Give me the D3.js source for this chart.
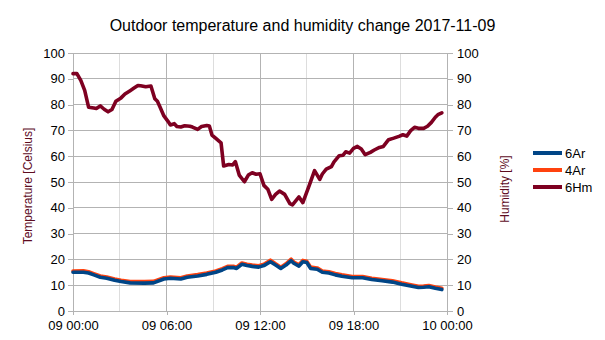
<!DOCTYPE html>
<html>
<head>
<meta charset="utf-8">
<script src="https://cdn.jsdelivr.net/npm/d3@7"></script>
<style>
  body { margin: 0; background: #fff; }
  svg { display: block; font-family: "Liberation Sans", Arial, sans-serif; }
</style>
</head>
<body>
<svg id="chart" width="605" height="340"></svg>
<script>
// Outdoor readings for 2017-11-09
const day = "2017-11-09";

// Humidity sensor 6Hm [%]
const humTimes = [
  "00:00","00:15","00:30","00:45","01:00","01:20","01:30","01:45","02:00","02:15",
  "02:30","02:45","03:05","03:20","03:40","03:55","04:10","04:20","04:40","05:00",
  "05:15","05:25","05:35","05:50","06:05","06:15","06:30","06:40","06:55","07:10",
  "07:30","07:40","08:00","08:15","08:35","08:45","08:55","09:10","09:30","09:40",
  "10:00","10:15","10:25","10:40","11:00","11:15","11:30","11:45","12:00","12:15",
  "12:30","12:45","13:00","13:15","13:35","13:55","14:05","14:30","14:45","15:10",
  "15:30","15:50","16:00","16:15","16:35","16:45","17:05","17:20","17:30","17:45",
  "18:00","18:15","18:30","18:45","19:05","19:20","19:40","19:55","20:15","20:35",
  "20:55","21:10","21:25","21:40","21:55","22:10","22:30","22:45","23:00","23:15",
  "23:25","23:40"
];
const hum6Hm = [
  92.0, 92.0, 89.4, 85.5, 79.0, 78.7, 78.5, 79.5, 78.2, 77.2,
  78.1, 81.3, 82.6, 84.1, 85.4, 86.4, 87.4, 87.3, 86.9, 87.2,
  82.3, 81.3, 79.1, 75.6, 73.6, 72.1, 72.6, 71.5, 71.3, 71.8,
  71.6, 71.3, 70.4, 71.5, 71.9, 71.7, 68.2, 66.9, 65.2, 56.2,
  56.8, 56.6, 57.9, 52.7, 50.1, 52.7, 53.6, 53.0, 53.2, 48.7,
  47.2, 43.3, 45.2, 46.5, 45.2, 41.6, 41.1, 44.2, 42.0, 48.8,
  54.4, 51.0, 53.1, 55.0, 56.0, 57.8, 60.2, 60.4, 61.7, 61.2,
  63.0, 63.8, 62.8, 60.6, 61.5, 62.4, 63.4, 63.8, 66.4, 67.0,
  67.7, 68.3, 67.8, 69.9, 71.2, 70.8, 70.8, 71.6, 73.1, 75.1,
  76.1, 76.8
];

// Temperature sensors 6Ar and 4Ar [Celsius]
const tempTimes = [
  "00:00","00:40","01:00","01:20","01:45","02:10","02:40","03:05","03:40","04:35",
  "05:10","05:50","06:15","06:55","07:20","08:00","08:35","09:10","09:35","09:55",
  "10:20","10:30","10:50","11:10","11:30","11:55","12:15","12:40","13:00","13:20",
  "13:40","14:00","14:10","14:30","14:45","15:00","15:15","15:40","16:00","16:25",
  "16:50","17:15","17:55","18:35","19:10","19:50","20:30","21:05","21:45","22:10",
  "22:30","22:50","23:15","23:40"
];
const temp6Ar = [
  15.0, 15.0, 14.7, 14.0, 13.1, 12.7, 11.9, 11.4, 10.9, 10.8,
  10.9, 12.4, 12.7, 12.4, 13.1, 13.6, 14.2, 15.0, 15.9, 16.8,
  16.8, 16.5, 18.1, 17.6, 17.3, 17.0, 17.6, 19.1, 17.8, 16.5,
  17.8, 19.5, 18.5, 17.4, 19.1, 18.8, 16.5, 16.2, 15.0, 14.7,
  14.0, 13.5, 12.9, 12.9, 12.2, 11.7, 11.2, 10.4, 9.6, 9.1,
  9.2, 9.4, 8.8, 8.3
];
const temp4Ar = [
  15.5, 15.6, 15.2, 14.5, 13.6, 13.2, 12.4, 11.9, 11.4, 11.4,
  11.5, 12.9, 13.2, 12.9, 13.6, 14.1, 14.7, 15.5, 16.4, 17.3,
  17.3, 17.0, 18.6, 18.1, 17.8, 17.5, 18.1, 19.7, 18.3, 17.0,
  18.3, 20.1, 19.0, 17.9, 19.6, 19.3, 17.0, 16.7, 15.5, 15.2,
  14.5, 14.0, 13.4, 13.4, 12.7, 12.2, 11.7, 10.9, 10.1, 9.6,
  9.7, 9.9, 9.3, 8.8
];

// Axis ticks
const yTicks = [0, 10, 20, 30, 40, 50, 60, 70, 80, 90, 100];
const xMajorTicks = ["2017-11-09 00:00", "2017-11-09 06:00", "2017-11-09 12:00", "2017-11-09 18:00", "2017-11-10 00:00"];
const xMinorTicks = ["2017-11-09 03:00", "2017-11-09 09:00", "2017-11-09 15:00", "2017-11-09 21:00"];

const seriesNames = ["6Ar", "4Ar", "6Hm"];
const seriesColors = ["#004586", "#ff420e", "#7e0021"];

const parse = d3.timeParse("%Y-%m-%d %H:%M");
const at = t => parse(day + " " + t);

const svg = d3.select("#chart");
const plot = { left: 73, right: 447, top: 53, bottom: 311 };

const x = d3.scaleTime()
  .domain([parse(xMajorTicks[0]), parse(xMajorTicks[xMajorTicks.length - 1])])
  .range([plot.left, plot.right]);
const yTemp = d3.scaleLinear().domain([0, 100]).range([plot.bottom, plot.top]);
const yHum = d3.scaleLinear().domain([0, 100]).range([plot.bottom, plot.top]);

const gridColor = "#b3b3b3";
const minorGridColor = "#dddddd";

// Grid
const grid = svg.append("g");
grid.selectAll("line.minor")
  .data(xMinorTicks.map(parse))
  .join("line")
  .attr("x1", d => x(d)).attr("x2", d => x(d))
  .attr("y1", plot.top).attr("y2", plot.bottom)
  .attr("stroke", minorGridColor).attr("stroke-width", 1)
  .attr("shape-rendering", "crispEdges");
grid.selectAll("line.hgrid")
  .data(yTicks)
  .join("line")
  .attr("x1", plot.left).attr("x2", plot.right)
  .attr("y1", d => yTemp(d)).attr("y2", d => yTemp(d))
  .attr("stroke", gridColor).attr("stroke-width", 1)
  .attr("shape-rendering", "crispEdges");
grid.selectAll("line.major")
  .data(xMajorTicks.map(parse))
  .join("line")
  .attr("x1", d => x(d)).attr("x2", d => x(d))
  .attr("y1", plot.top).attr("y2", plot.bottom)
  .attr("stroke", gridColor).attr("stroke-width", 1)
  .attr("shape-rendering", "crispEdges");

function styleAxis(g) {
  g.select(".domain").remove();
  g.selectAll(".tick line").attr("stroke", gridColor).attr("shape-rendering", "crispEdges");
  g.selectAll(".tick text").attr("fill", "#000").attr("font-size", 13)
    .attr("font-family", "'Liberation Sans', Arial, sans-serif");
}

svg.append("g")
  .attr("transform", `translate(${plot.left},0)`)
  .call(d3.axisLeft(yTemp).tickValues(yTicks).tickSize(5).tickPadding(3))
  .call(styleAxis);

svg.append("g")
  .attr("transform", `translate(${plot.right},0)`)
  .call(d3.axisRight(yHum).tickValues(yTicks).tickSize(6).tickPadding(4))
  .call(styleAxis);

svg.append("g")
  .attr("transform", `translate(0,${plot.bottom})`)
  .call(d3.axisBottom(x).tickValues(xMajorTicks.map(parse)).tickSize(4).tickPadding(6)
    .tickFormat(d3.timeFormat("%d %H:%M")))
  .call(styleAxis);

// Series lines
const lineOf = (times, values, yScale) =>
  d3.line().x((d, i) => x(at(times[i]))).y(d => yScale(d)).curve(d3.curveLinear)(values);

const lines = svg.append("g").attr("fill", "none")
  .attr("stroke-width", 3.6).attr("stroke-linejoin", "round").attr("stroke-linecap", "round");
lines.append("path").attr("d", lineOf(tempTimes, temp4Ar, yTemp)).attr("stroke", seriesColors[1]);
lines.append("path").attr("d", lineOf(tempTimes, temp6Ar, yTemp)).attr("stroke", seriesColors[0]);
lines.append("path").attr("d", lineOf(humTimes, hum6Hm, yHum)).attr("stroke", seriesColors[2]);

// Title
svg.append("text")
  .attr("x", 302.5).attr("y", 31)
  .attr("text-anchor", "middle")
  .attr("font-size", 16)
  .attr("fill", "#000")
  .text("Outdoor temperature and humidity change 2017-11-09");

// Axis titles
const axisTitleColor = "#5e0c1f";
svg.append("text")
  .attr("transform", `translate(32,${(plot.top + plot.bottom) / 2 + 4}) rotate(-90)`)
  .attr("text-anchor", "middle")
  .attr("font-size", 12)
  .attr("fill", axisTitleColor)
  .text("Temperature [Celsius]");
svg.append("text")
  .attr("transform", `translate(509,${(plot.top + plot.bottom) / 2 + 7}) rotate(-90)`)
  .attr("text-anchor", "middle")
  .attr("font-size", 12)
  .attr("fill", axisTitleColor)
  .text("Humidity [%]");

// Legend
const legend = svg.append("g").attr("transform", "translate(533,153)");
const rows = legend.selectAll("g").data(seriesNames).join("g")
  .attr("transform", (d, i) => `translate(0,${i * 17})`);
rows.append("line")
  .attr("x1", 0).attr("x2", 29).attr("y1", 0).attr("y2", 0)
  .attr("stroke", (d, i) => seriesColors[i]).attr("stroke-width", 4);
rows.append("text")
  .attr("x", 32).attr("y", 0).attr("dy", "0.35em")
  .attr("font-size", 13).attr("fill", "#000")
  .text(d => d);
</script>
</body>
</html>
